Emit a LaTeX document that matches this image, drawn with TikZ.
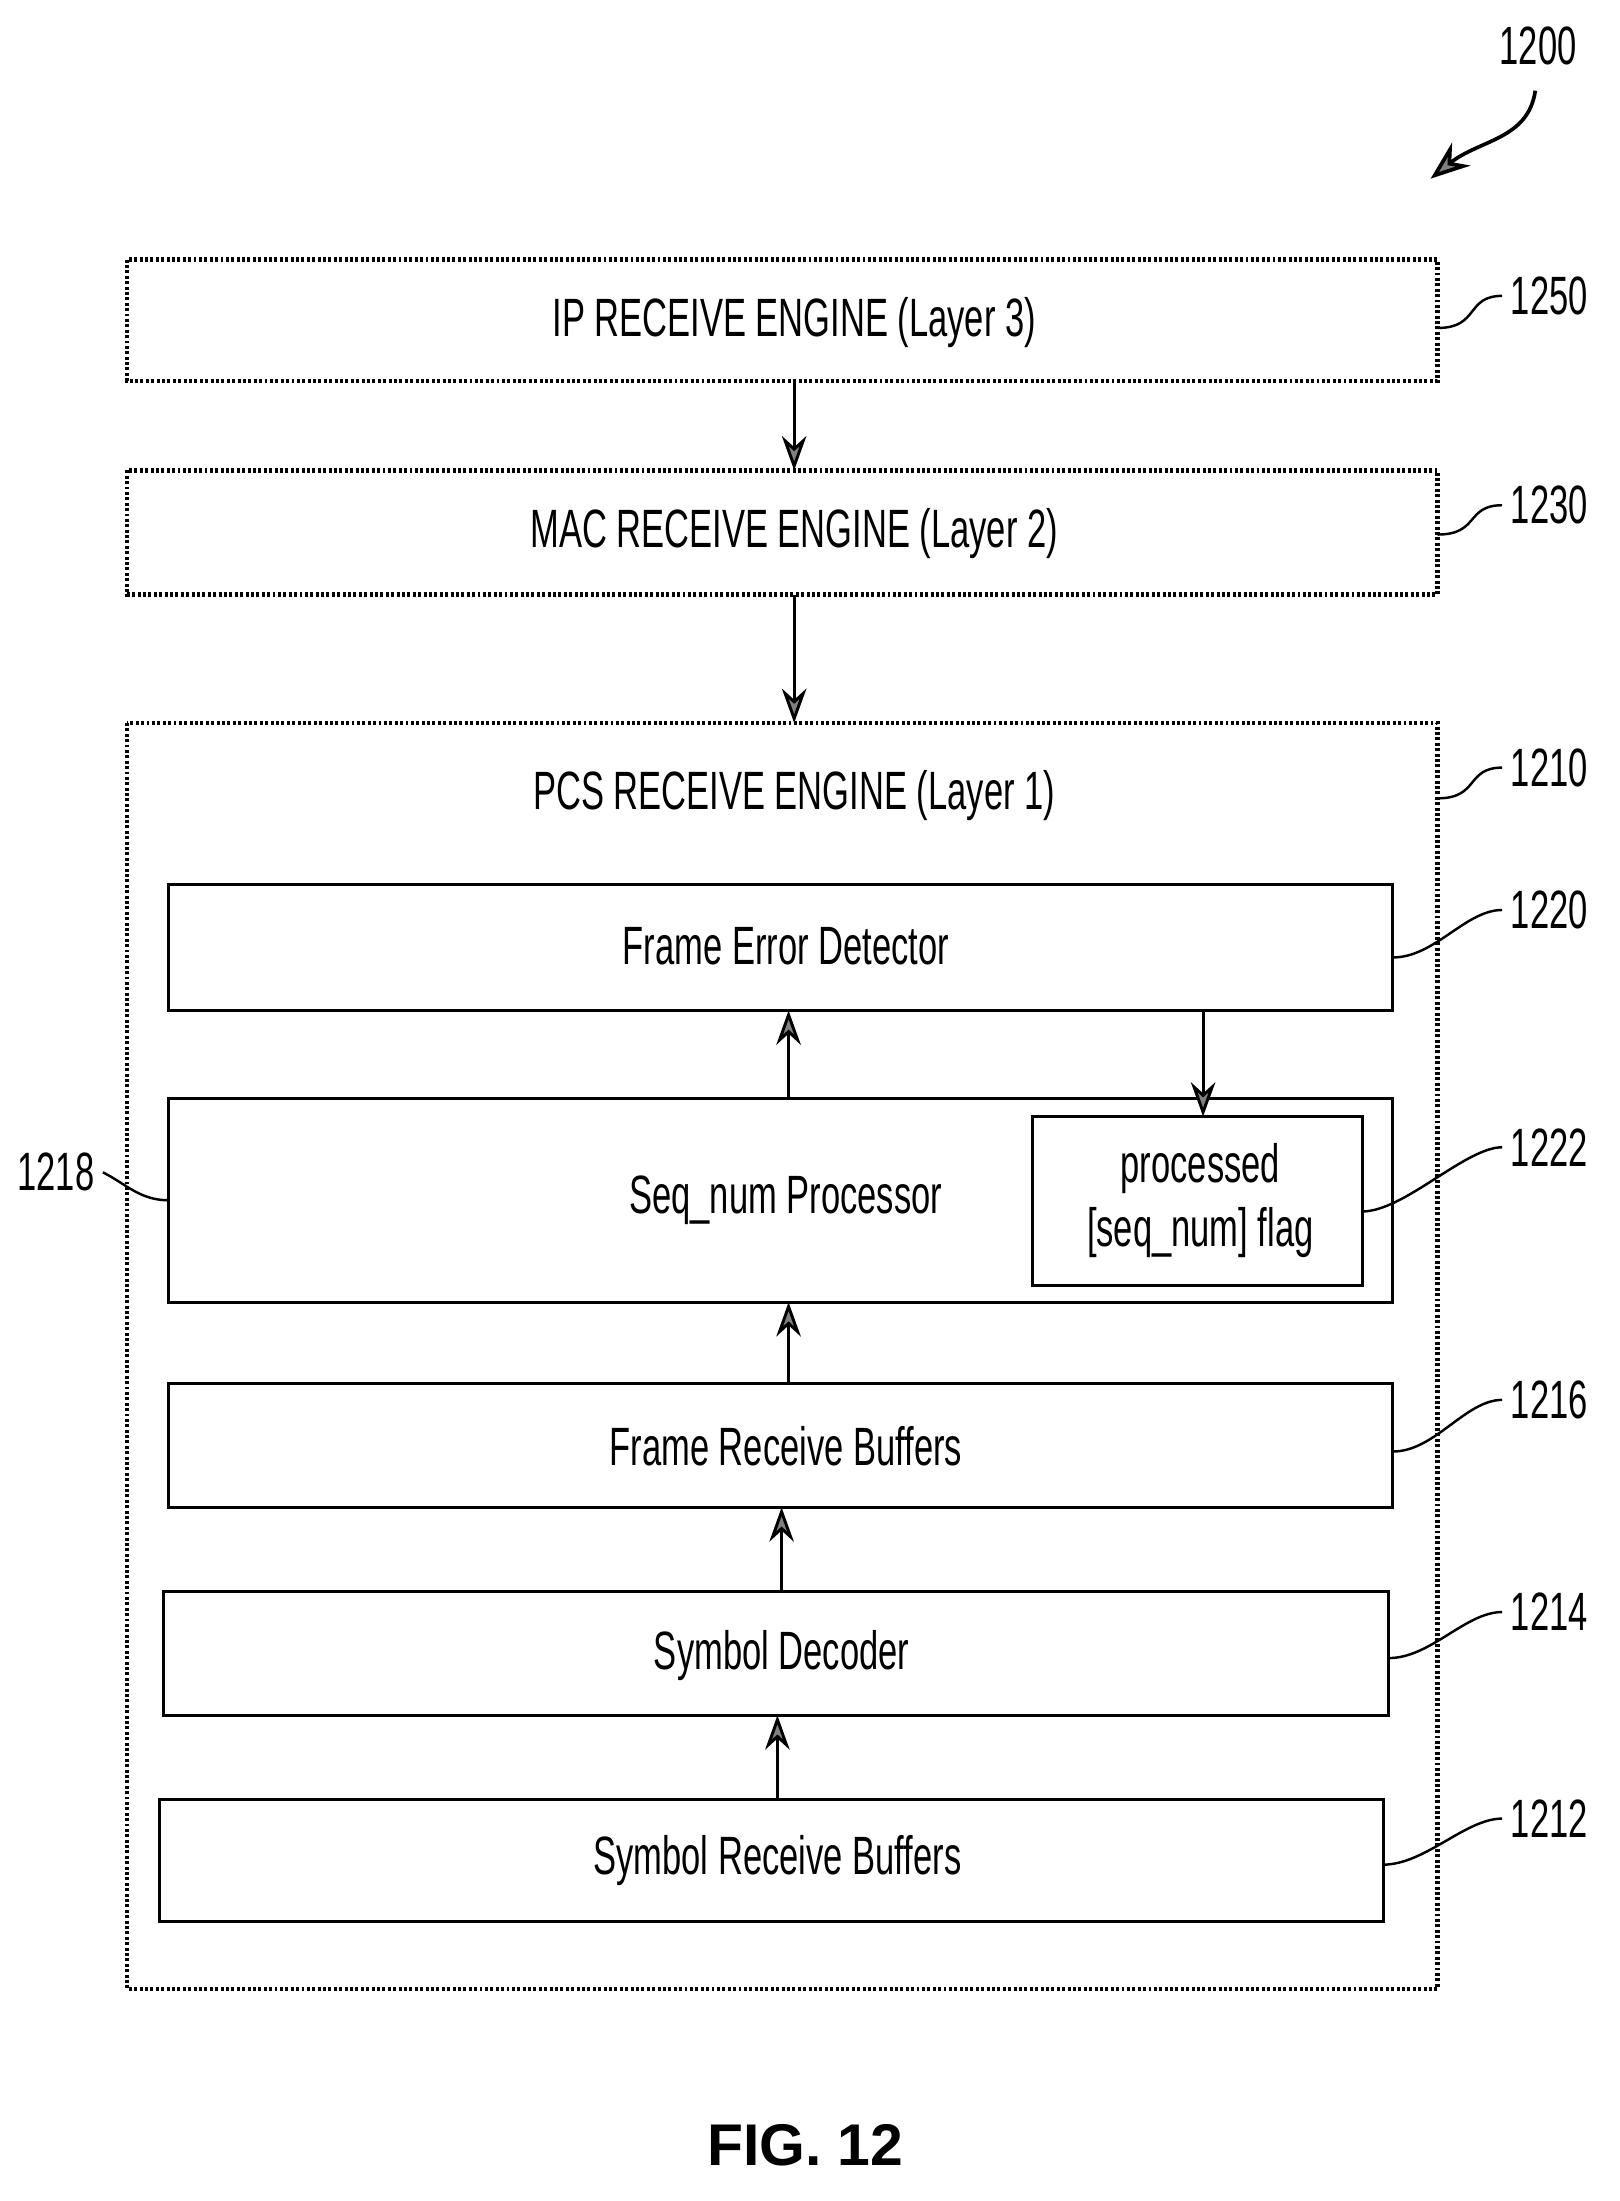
\documentclass[tikz,border=0pt]{standalone}
\usepackage{fontspec}
\setmainfont{Liberation Sans}
\usetikzlibrary{arrows.meta}
\newcommand{\nt}[1]{\scalebox{0.64}[1]{#1}}
\begin{document}
\begin{tikzpicture}[x=0.02cm,y=-0.02cm,
  box/.style={draw,line width=1.8pt,dash pattern=on 1.2pt off 1pt,inner sep=0},
  ibox/.style={draw,line width=1.2pt,inner sep=0},
  txt/.style={font=\fontsize{22}{26}\selectfont},
  ref/.style={font=\fontsize{22}{26}\selectfont},
  arr/.style={line width=1.2pt,-{Stealth[length=14pt,width=10pt,fill=gray]}},
  lead/.style={line width=1pt}]
\useasboundingbox (0,0) rectangle (1160,1577);
\draw[box] (91,186) rectangle (1030,273);
\node[txt] (ip) at (569,231) {\nt{IP RECEIVE ENGINE (Layer 3)}};
\draw[box] (91,337) rectangle (1030,426);
\node[txt] (mac) at (569,382) {\nt{MAC RECEIVE ENGINE (Layer 2)}};
\draw[box] (91,518) rectangle (1030,1425);
\node[txt] (pcs) at (569,570) {\nt{PCS RECEIVE ENGINE (Layer 1)}};
\draw[ibox] (121,634) rectangle (998,724);
\node[txt] (fed) at (563,678) {\nt{Frame Error Detector}};
\draw[ibox] (121,787) rectangle (998,933);
\node[txt] (seq) at (563,860) {\nt{Seq\_num Processor}};
\draw[ibox] (740,800) rectangle (976,921);
\node[txt,align=center] (flag) at (860,860) {\nt{processed}\\\nt{[seq\_num] flag}};
\draw[ibox] (121,991) rectangle (998,1080);
\node[txt] (frb) at (563,1036) {\nt{Frame Receive Buffers}};
\draw[ibox] (117,1140) rectangle (995,1229);
\node[txt] (sd) at (560,1186) {\nt{Symbol Decoder}};
\draw[ibox] (114,1289) rectangle (991,1377);
\node[txt] (srb) at (557,1333) {\nt{Symbol Receive Buffers}};
\coordinate (a1) at (569,273); \coordinate (a2) at (569,337);
\coordinate (b1) at (569,426); \coordinate (b2) at (569,518);
\coordinate (c1) at (565,787); \coordinate (c2) at (565,724);
\coordinate (d1) at (862,724); \coordinate (d2) at (862,800);
\coordinate (e1) at (565,991); \coordinate (e2) at (565,933);
\coordinate (f1) at (560,1140); \coordinate (f2) at (560,1080);
\coordinate (g1) at (557,1289); \coordinate (g2) at (557,1229);
\draw[arr] (a1)--(a2); \draw[arr] (b1)--(b2); \draw[arr] (c1)--(c2);
\draw[arr] (d1)--(d2); \draw[arr] (e1)--(e2); \draw[arr] (f1)--(f2); \draw[arr] (g1)--(g2);
\foreach \n/\y/\x/\yy in {1250/212/1030/235,1230/362/1030/383,1210/550/1030/572,1220/652/998/686,1222/822/976/868,1216/1003/998/1040,1214/1155/995/1188,1212/1303/991/1336}{
  \node[ref] (r\n) at (1110,\y) {\nt{\n}};
  \coordinate (p\n) at (\x,\yy);
  \draw[lead] (p\n) .. controls (\x+30,\yy) and (1050,\y) .. (r\n.west);
}
\node[ref] (r1218) at (40,840) {\nt{1218}};
\coordinate (p1218) at (121,860);
\draw[lead] (r1218.east) .. controls (90,848) and (100,860) .. (p1218);
\node[ref] (r1200) at (1102,33) {\nt{1200}};
\coordinate (p1200) at (1025,128);
\draw[line width=1.5pt,-{Stealth[length=16pt,width=12pt,fill=gray]}] (1100,65) .. controls (1095,100) and (1060,100) .. (p1200);
\node[font=\bfseries\fontsize{24}{28}\selectfont] (fig) at (577,1537) {FIG. 12};
\end{tikzpicture}
\end{document}
